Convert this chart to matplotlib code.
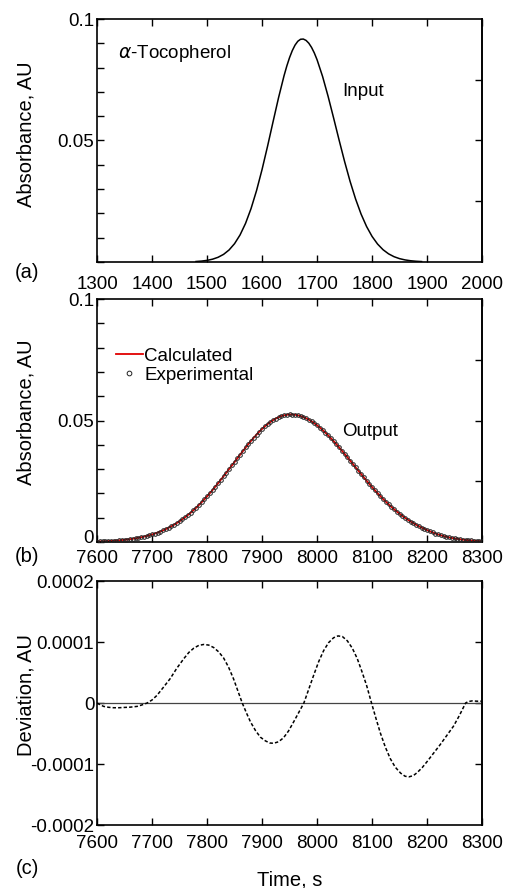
import numpy as np
import matplotlib.pyplot as plt

plt.rcParams['font.family'] = ['Liberation Sans', 'DejaVu Sans']
plt.rcParams['mathtext.fontset'] = 'dejavusans'

## DADOS ##
# (a) pico de entrada, alfa-tocoferol
input_time = [1480, 1490, 1500, 1510, 1520, 1530, 1540, 1550, 1560, 1570, 1580, 1590, 1600,
              1610, 1620, 1630, 1640, 1645, 1650, 1655, 1660, 1665, 1670, 1675, 1680, 1685,
              1690, 1695, 1700, 1710, 1720, 1730, 1740, 1750, 1760, 1770, 1780, 1790, 1800,
              1810, 1820, 1830, 1840, 1850, 1860, 1870, 1880, 1890]
input_abs = [0.00019, 0.00036, 0.00065, 0.00114, 0.00192, 0.00312, 0.00493, 0.00753,
             0.01112, 0.01589, 0.02198, 0.02940, 0.03805, 0.04763, 0.05771, 0.06763,
             0.07668, 0.08065, 0.08412, 0.08701, 0.08927, 0.09084, 0.09166, 0.09175,
             0.09119, 0.09004, 0.08830, 0.08602, 0.08323, 0.07637, 0.06822, 0.05932,
             0.05022, 0.04138, 0.03319, 0.02593, 0.01971, 0.01459, 0.01051, 0.00737,
             0.00503, 0.00334, 0.00216, 0.00136, 0.00084, 0.00050, 0.00029, 0.00016]

# (b) pico de saida (amostras a cada 5 s de 7600 a 8300 s)
output_time = np.arange(7600, 8301, 5)
output_abs = [0.000212, 0.000247, 0.000288, 0.000335, 0.000389, 0.000451, 0.000520, 0.000600,
              0.000690, 0.000792, 0.000907, 0.001036, 0.001181, 0.001344, 0.001525, 0.001727,
              0.001952, 0.002201, 0.002474, 0.002778, 0.003111, 0.003477, 0.003876, 0.004309,
              0.004787, 0.005301, 0.005859, 0.006463, 0.007105, 0.007797, 0.008540, 0.009334,
              0.01018, 0.01108, 0.01202, 0.01302, 0.01408, 0.01518, 0.01633, 0.01753,
              0.01878, 0.02007, 0.02140, 0.02277, 0.02418, 0.02561, 0.02707, 0.02855,
              0.03004, 0.03154, 0.03304, 0.03454, 0.03602, 0.03749, 0.03892, 0.04032,
              0.04169, 0.04299, 0.04424, 0.04543, 0.04655, 0.04759, 0.04854, 0.04940,
              0.05016, 0.05082, 0.05138, 0.05183, 0.05216, 0.05238, 0.05250,
              0.05248, 0.05237, 0.05216, 0.05185, 0.05144, 0.05094, 0.05035, 0.04967,
              0.04890, 0.04805, 0.04712, 0.04613, 0.04507, 0.04395, 0.04277, 0.04155,
              0.04028, 0.03898, 0.03765, 0.03629, 0.03492, 0.03353, 0.03214, 0.03074,
              0.02935, 0.02796, 0.02659, 0.02524, 0.02391, 0.02260, 0.02133, 0.02009,
              0.01889, 0.01773, 0.01660, 0.01551, 0.01448, 0.01348, 0.01253, 0.01162,
              0.01076, 0.00994, 0.00917, 0.00844, 0.00776, 0.00711, 0.00651, 0.00594,
              0.00542, 0.00493, 0.00441, 0.00394, 0.00350, 0.00312, 0.00277, 0.00245,
              0.00216, 0.00190, 0.00167, 0.00146, 0.00128, 0.00112, 0.00097, 0.00085,
              0.00074, 0.00064, 0.00055, 0.00047, 0.00041, 0.00035]

# (c) desvio entre calculado e experimental
dev_time = [7600, 7606, 7612, 7621, 7630, 7640, 7650, 7660, 7673, 7682, 7691, 7700, 7709,
            7720, 7733, 7745, 7758, 7767, 7776, 7785, 7794, 7803, 7812, 7821, 7830, 7839,
            7848, 7856, 7864, 7872, 7879, 7888, 7897, 7906, 7914, 7921, 7930, 7939, 7948,
            7958, 7967, 7976, 7985, 7994, 8003, 8012, 8021, 8030, 8038, 8046, 8055, 8064,
            8073, 8081, 8090, 8099, 8107, 8115, 8124, 8133, 8142, 8152, 8160, 8167, 8175,
            8182, 8191, 8200, 8212, 8224, 8236, 8248, 8259, 8270, 8275, 8282, 8291, 8300]
dev_val = [0.0, -0.3e-5, -0.55e-5, -0.7e-5, -0.77e-5, -0.77e-5, -0.72e-5, -0.68e-5, -0.55e-5,
           -0.3e-5, 0.0, 0.5e-5, 1.26e-5, 2.5e-5, 4.0e-5, 5.7e-5, 7.3e-5, 8.3e-5, 9.0e-5,
           9.45e-5, 9.6e-5, 9.5e-5, 9.1e-5, 8.4e-5, 7.4e-5, 5.9e-5, 4.0e-5, 2.0e-5, 0.0,
           -1.7e-5, -3.1e-5, -4.5e-5, -5.6e-5, -6.2e-5, -6.55e-5, -6.6e-5, -6.35e-5, -5.7e-5,
           -4.6e-5, -3.0e-5, -1.5e-5, 0.0, 2.3e-5, 4.6e-5, 6.8e-5, 8.6e-5, 9.9e-5, 10.7e-5,
           11.0e-5, 10.9e-5, 10.2e-5, 9.0e-5, 7.3e-5, 5.3e-5, 2.9e-5, 0.0, -2.5e-5, -4.9e-5,
           -7.2e-5, -9.1e-5, -10.5e-5, -11.5e-5, -12.0e-5, -12.1e-5, -11.9e-5, -11.4e-5,
           -10.6e-5, -9.6e-5, -8.2e-5, -6.8e-5, -5.3e-5, -3.8e-5, -2.0e-5, 0.0, 0.25e-5,
           0.35e-5, 0.3e-5, 0.3e-5]

abs_ticks = [0.0, 0.01, 0.02, 0.03, 0.04, 0.05, 0.06, 0.07, 0.08, 0.09, 0.1]
abs_right_ticks = [0.025, 0.05, 0.075]
dev_ticks = [-0.0002, -0.0001, 0.0, 0.0001, 0.0002]
dev_tick_labels = ['-0.0002', '-0.0001', '0', '0.0001', '0.0002']

FS_TICK = 13.5
FS_LABEL = 14.5


def style_axes(ax, xticks, xpad, right_ticks):
    ax.set_xticks(xticks)
    ax.tick_params(axis='both', direction='in', length=5, width=1.0,
                   labelsize=FS_TICK, top=True, right=False)
    ax.tick_params(axis='x', pad=xpad)
    ax.tick_params(axis='y', pad=2)
    for s in ax.spines.values():
        s.set_linewidth(1.2)
    sec = ax.secondary_yaxis('right')
    sec.set_yticks(right_ticks)
    sec.tick_params(direction='in', length=5, width=1.0, labelright=False)
    sec.spines['right'].set_linewidth(1.2)


fig = plt.figure(figsize=(5.08, 8.88), dpi=100)

## PAINEL (a) ##
ax_a = fig.add_axes([0.191, 0.705, 0.758, 0.2736])
ax_a.plot(input_time, input_abs, color='black', lw=1.1)
ax_a.set_xlim(1300, 2000)
ax_a.set_ylim(0, 0.1)
ax_a.set_yticks(abs_ticks)
ax_a.set_yticklabels([{0.05: '0.05', 0.1: '0.1'}.get(v, '') for v in abs_ticks])
style_axes(ax_a, [1300, 1400, 1500, 1600, 1700, 1800, 1900, 2000], 10, abs_right_ticks)
ax_a.text(1338, 0.086, r'$\alpha$-Tocopherol', fontsize=FS_TICK, va='center', ha='left')
ax_a.text(1745, 0.070, 'Input', fontsize=FS_TICK, va='center', ha='left')

## PAINEL (b) ##
ax_b = fig.add_axes([0.191, 0.3896, 0.758, 0.2736])
ax_b.plot(output_time, output_abs, color='#e00000', lw=1.3, label='Calculated', zorder=2)
ax_b.plot(output_time, output_abs, 'o', mfc='none', mec='#222222', ms=2.6, mew=0.7,
          label='Experimental', zorder=3)
ax_b.set_xlim(7600, 8300)
ax_b.set_ylim(0, 0.1)
ax_b.set_yticks(abs_ticks)
ax_b.set_yticklabels([{0.05: '0.05', 0.1: '0.1'}.get(v, '') for v in abs_ticks])
style_axes(ax_b, [7600, 7700, 7800, 7900, 8000, 8100, 8200, 8300], 6, abs_right_ticks)
# o "0" fica um pouco acima para nao encostar no "7600"
ax_b.text(-0.0075, 0.0014, '0', transform=ax_b.get_yaxis_transform(), ha='right',
          va='center', fontsize=FS_TICK)
ax_b.text(8045, 0.0453, 'Output', fontsize=FS_TICK, va='center', ha='left')
ax_b.legend(loc='upper left', bbox_to_anchor=(0.05, 0.80),
            frameon=False, fontsize=FS_TICK, handlelength=1.4, handletextpad=0.1,
            borderpad=0, borderaxespad=0, labelspacing=0.1, markerscale=1.3)

## PAINEL (c) ##
ax_c = fig.add_axes([0.191, 0.0709, 0.758, 0.2748])
ax_c.axhline(0, color='#444444', lw=0.9)
ax_c.plot(dev_time, dev_val, color='black', lw=1.1, ls=(0, (2.2, 1.4)))
ax_c.set_xlim(7600, 8300)
ax_c.set_ylim(-0.0002, 0.0002)
ax_c.set_yticks(dev_ticks)
ax_c.set_yticklabels(dev_tick_labels)
style_axes(ax_c, [7600, 7700, 7800, 7900, 8000, 8100, 8200, 8300], 7, [-0.0001, 0.0, 0.0001])

## RÓTULOS ##
fig.text(26 / 508, 1 - 134 / 888, 'Absorbance, AU', rotation=90, ha='center', va='center',
         fontsize=FS_LABEL)
fig.text(26 / 508, 1 - 412 / 888, 'Absorbance, AU', rotation=90, ha='center', va='center',
         fontsize=FS_LABEL)
fig.text(26 / 508, 1 - 695 / 888, 'Deviation, AU', rotation=90, ha='center', va='center',
         fontsize=FS_LABEL)
fig.text(290 / 508, 1 - 880 / 888, 'Time, s', ha='center', va='center', fontsize=FS_LABEL)
fig.text(27 / 508, 1 - 273 / 888, '(a)', ha='center', va='center', fontsize=FS_LABEL)
fig.text(27 / 508, 1 - 557 / 888, '(b)', ha='center', va='center', fontsize=FS_LABEL)
fig.text(27 / 508, 1 - 868 / 888, '(c)', ha='center', va='center', fontsize=FS_LABEL)

fig.savefig('out.png', dpi=100)
